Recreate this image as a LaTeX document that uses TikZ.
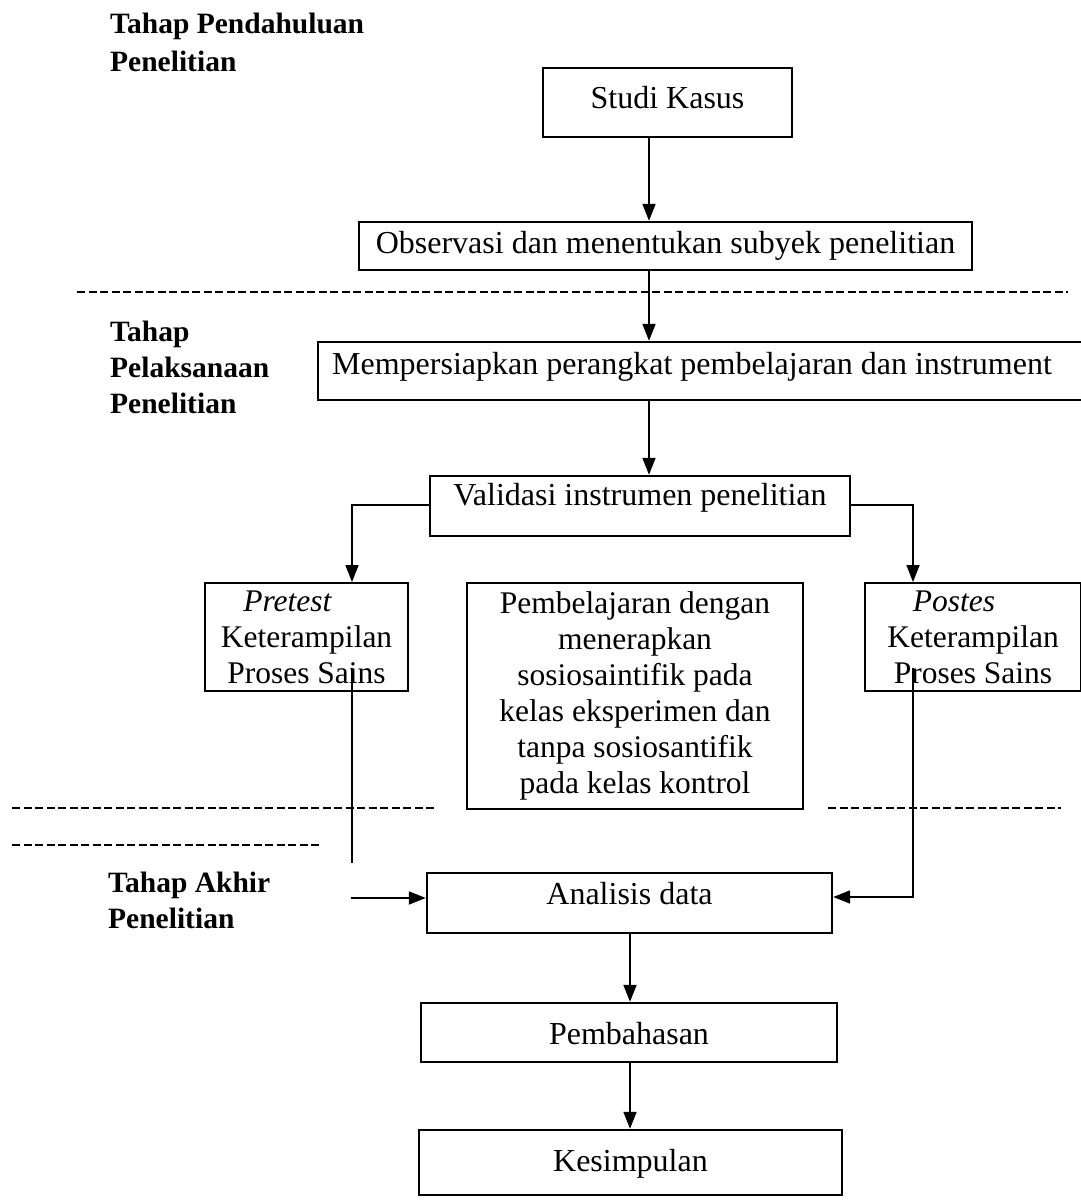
\documentclass[tikz,border=0pt]{standalone}
\usepackage{fontspec}
\setmainfont{Liberation Serif}
\usetikzlibrary{arrows.meta}
\begin{document}
\begin{tikzpicture}[x=1pt,y=-1pt,
  box/.style={draw,line width=2.4pt,inner sep=0pt,font=\fontsize{32}{36}\selectfont,anchor=base},
  mbox/.style={draw,line width=2.4pt,inner sep=0pt,font=\fontsize{31.5}{36}\selectfont,align=center,anchor=north},
  lbl/.style={font=\fontsize{29.5}{36}\selectfont\bfseries,anchor=base west,inner sep=0pt},
  conn/.style={line width=1.8pt},
  arr/.style={line width=1.8pt,-{Triangle[length=17pt,width=13pt]}},
  dashline/.style={line width=2pt,dash pattern=on 8pt off 3.5pt}]
\useasboundingbox (0,0) rectangle (1081,1202);
\fill[white] (0,0) rectangle (1081,1202);
% stage labels
\node[lbl] (l1a) at (110,33) {Tahap Pendahuluan};
\node[lbl] (l1b) at (110,71) {Penelitian};
\node[lbl] (l2a) at (110,341) {Tahap};
\node[lbl] (l2b) at (110,377) {Pelaksanaan};
\node[lbl] (l2c) at (110,413) {Penelitian};
\node[lbl] (l3a) at (108,892) {Tahap Akhir};
\node[lbl] (l3b) at (108,928) {Penelitian};
% boxes
\node[box,minimum width=249pt,text height=40pt,text depth=29pt] (studi) at (667.5,108) {Studi Kasus};
\node[box,minimum width=613pt,text height=31pt,text depth=17pt] (obs) at (665.5,253) {Observasi dan menentukan subyek penelitian};
\node[box,minimum width=772pt,text height=32pt,text depth=26pt] (prep) at (704,374) {Mempersiapkan perangkat pembelajaran dan instrument\hspace*{24pt}};
\node[box,minimum width=420pt,text height=29pt,text depth=31pt] (valid) at (640,505) {Validasi instrumen penelitian};
\node[mbox,minimum width=203pt,minimum height=108pt,text depth=0pt] (pre) at (306.5,582) {\rule{0pt}{0pt}\textit{Pretest}\hspace*{1.2em}\\Keterampilan\\Proses Sains};
\node[mbox,minimum width=336pt,minimum height=226pt] (mid) at (635,582) {Pembelajaran dengan\\menerapkan\\sosiosaintifik pada\\kelas eksperimen dan\\tanpa sosiosantifik\\pada kelas kontrol};
\node[mbox,minimum width=216pt,minimum height=108pt] (post) at (973,582) {\textit{Postes}\hspace*{1.2em}\\Keterampilan\\Proses Sains};
\node[box,minimum width=405pt,text height=31pt,text depth=29pt] (anal) at (629.5,904) {Analisis data};
\node[box,minimum width=416pt,text height=41pt,text depth=18pt] (bahas) at (629,1044) {Pembahasan};
\node[box,minimum width=423pt,text height=41pt,text depth=24pt] (simp) at (630.5,1171) {Kesimpulan};
% dashed separators
\draw[dashline] (77,292) -- (1068,292);
\draw[dashline] (12,808) -- (437,808);
\draw[dashline] (12,845) -- (320,845);
\draw[dashline] (828,808) -- (1061,808);
% connectors
\draw[arr] (studi.south -| 649,0) -- (obs.north -| 649,0);
\draw[arr] (obs.south -| 649,0) -- (prep.north -| 649,0);
\draw[arr] (prep.south -| 649,0) -- (valid.north -| 649,0);
\coordinate (vl) at (352,505);
\coordinate (vr) at (913,505);
\draw[arr] (valid.west |- vl) -- (vl) -- (pre.north -| vl);
\draw[arr] (valid.east |- vr) -- (vr) -- (post.north -| vr);
\coordinate (pl1) at (352,668);
\coordinate (pl2) at (352,863);
\coordinate (pl3) at (351,898);
\draw[conn] (pl1) -- (pl2);
\draw[arr] (pl3) -- (anal.west |- pl3);
\coordinate (pr1) at (913,668);
\coordinate (pr2) at (913,897);
\draw[arr] (pr1) -- (pr2) -- (anal.east |- pr2);
\draw[arr] (anal.south -| 630,0) -- (bahas.north -| 630,0);
\draw[arr] (bahas.south -| 630,0) -- (simp.north -| 630,0);
\end{tikzpicture}
\end{document}
